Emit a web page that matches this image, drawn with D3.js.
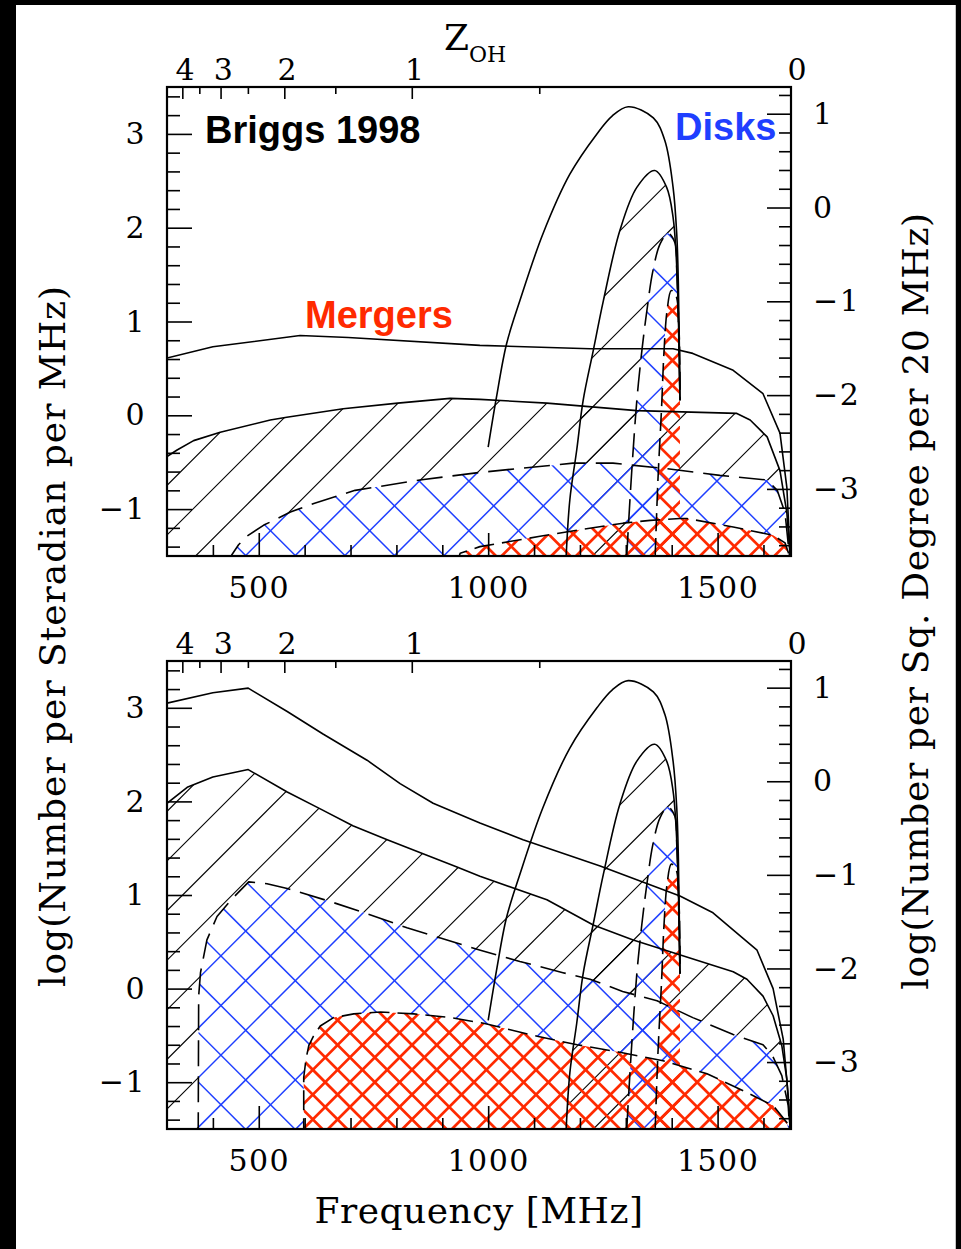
<!DOCTYPE html>
<html>
<head>
<meta charset="utf-8">
<title>OH megamaser and HI disk source counts</title>
<script src="https://cdn.jsdelivr.net/npm/d3@7/dist/d3.min.js"></script>
<style>
  html, body { margin: 0; padding: 0; background: #000; }
  svg { display: block; }
</style>
</head>
<body>
<svg id="chart" width="961" height="1249"></svg>
<script>
// ---------------------------------------------------------------
// Data: [observed frequency (MHz), log N (per steradian per MHz)]
// ---------------------------------------------------------------
const FREQ_DOMAIN = [300, 1660];
const LOGN_DOMAIN = [-1.5, 3.5];
const OH_REST = 1667;                       // MHz, z = 0 for the OH line
// per sr per MHz  ->  per sq. degree per 20 MHz
const SQDEG_OFFSET = Math.log10(Math.pow(180 / Math.PI, 2)) - Math.log10(20);

const freqMajorTicks = [500, 1000, 1500];
const freqMinorTicks = [400, 600, 700, 800, 900, 1100, 1200, 1300, 1400, 1600];
const zMajorTicks = [0, 1, 2, 3, 4];
const zMinorTicks = [0.5, 1.5, 2.5, 3.5];
const leftMajorTicks = [-1, 0, 1, 2, 3];
const rightMajorTicks = [-3, -2, -1, 0, 1];

// HI disks (identical in both panels), four sensitivity levels
const diskOuter = [[1000,-0.34],[1018,0.19],[1040,0.76],[1069,1.22],[1119,1.93],[1178,2.57],
  [1237,3.0],[1270,3.19],[1305,3.29],[1360,3.17],[1385,2.93],[1403,2.43],[1411,1.93],[1414.5,1.40],[1418,0.16]];
const diskMid = [[1170,-1.5],[1178,-0.90],[1193,-0.37],[1207,0.16],[1229,0.69],[1251,1.22],[1287,1.97],
  [1324,2.43],[1363,2.61],[1389,2.43],[1403,2.11],[1411,1.58],[1418,0.16]];
const diskInner = [[1302,-1.5],[1309,-0.90],[1316,-0.37],[1324,0.16],[1335,0.69],[1346,1.12],[1359,1.54],
  [1375,1.83],[1392,1.94],[1407,1.84],[1411,1.54],[1414.5,1.01],[1418,0.16]];
const diskCore = [[1364,-1.5],[1370,-0.69],[1378,0.09],[1383,0.66],[1390,1.12],[1399,1.33],[1409,1.28],
  [1416,0.90],[1418,0.16]];

// OH megamaser mergers, no evolution (upper panel)
const mergUpperNoEvol = [[300,0.61],[400,0.73],[590,0.85],[695,0.83],[982,0.745],[1222,0.71],[1403,0.71],
  [1446,0.66],[1534,0.48],[1599,0.23],[1636,-0.19],[1651,-0.77],[1658,-1.49]];
const mergLowerNoEvol = [[300,-0.44],[322,-0.37],[358,-0.27],[416,-0.18],[525,-0.05],[561,-0.02],[684,0.07],
  [803,0.13],[917,0.18],[982,0.17],[1128,0.13],[1324,0.05],[1542,0.02],[1571,-0.05],[1608,-0.23],
  [1636,-0.59],[1651,-1.04],[1658,-1.49]];
const mergInnerNoEvol = [[432,-1.6],[441,-1.49],[456,-1.38],[474,-1.29],[511,-1.17],[533,-1.12],[569,-1.03],
  [620,-0.94],[678,-0.85],[710,-0.80],[851,-0.69],[980,-0.61],[1185,-0.51],[1272,-0.51],[1390,-0.57],
  [1505,-0.64],[1608,-0.69],[1630,-0.80],[1647,-1.04],[1656,-1.47],[1658,-1.6]];
const mergCoreNoEvol = [[930,-1.6],[939,-1.47],[982,-1.40],[1113,-1.29],[1200,-1.22],[1294,-1.15],[1353,-1.12],
  [1418,-1.10],[1433,-1.10],[1534,-1.19],[1621,-1.28],[1647,-1.36],[1656,-1.49],[1658,-1.6]];

// OH megamaser mergers, with merger-rate evolution (lower panel)
const mergUpperEvol = [[300,3.05],[400,3.16],[477,3.21],[562,2.96],[640,2.72],[736,2.44],[808,2.19],[880,1.98],
  [982,1.77],[1076,1.59],[1244,1.31],[1418,0.99],[1490,0.81],[1555,0.54],[1586,0.41],[1621,0.0],
  [1643,-0.54],[1654,-1.15],[1658,-1.49]];
const mergLowerEvol = [[300,1.98],[344,2.15],[400,2.26],[477,2.34],[562,2.10],[634,1.92],[705,1.74],[780,1.59],
  [858,1.44],[932,1.30],[982,1.20],[1128,0.95],[1229,0.68],[1316,0.52],[1534,0.18],[1564,0.10],
  [1599,-0.08],[1621,-0.29],[1640,-0.61],[1651,-0.97],[1658,-1.48]];
const mergInnerEvol = [[368,-1.6],[369,-0.08],[373,0.17],[387,0.52],[409,0.77],[442,0.96],[478,1.14],[518,1.12],
  [562,1.07],[656,0.93],[736,0.80],[823,0.65],[896,0.54],[983,0.41],[1069,0.29],[1163,0.17],[1222,0.10],
  [1293,-0.03],[1368,-0.13],[1446,-0.31],[1534,-0.49],[1599,-0.60],[1620,-0.72],[1640,-0.93],
  [1654,-1.25],[1658,-1.6]];
const mergCoreEvol = [[598,-1.6],[598,-0.95],[603,-0.75],[609,-0.61],[619,-0.51],[634,-0.40],[663,-0.31],
  [707,-0.27],[765,-0.25],[838,-0.27],[918,-0.31],[990,-0.37],[1107,-0.51],[1194,-0.60],[1287,-0.68],
  [1381,-0.77],[1477,-0.91],[1564,-1.11],[1621,-1.25],[1651,-1.43],[1658,-1.6]];

// ---------------------------------------------------------------
// Layout and styles
// ---------------------------------------------------------------
const PLOT_LEFT = 167, PLOT_RIGHT = 791;
const SERIF = "DejaVu Serif";
const SANS = "Liberation Sans, Arial, sans-serif";
const BLUE = "#1f3fff", RED = "#ff2a00";
const HATCH = {
  black: { color: "#000", width: 1.1, sep: 49.6, fam: ["/"] },
  blue:  { color: BLUE,  width: 1.5, sep: 49.6, fam: ["/", "\\"] },
  red:   { color: RED,   width: 2.7, sep: 24.8, fam: ["/", "\\"] }
};

const panels = [
  { id: "p1", top: 87, bottom: 556,
    upper: mergUpperNoEvol, lower: mergLowerNoEvol, inner: mergInnerNoEvol, core: mergCoreNoEvol },
  { id: "p2", top: 661, bottom: 1129,
    upper: mergUpperEvol, lower: mergLowerEvol, inner: mergInnerEvol, core: mergCoreEvol }
];

const svg = d3.select("#chart");
svg.append("rect").attr("x", 16).attr("y", 5).attr("width", 939).attr("height", 1244).attr("fill", "#fff");
svg.append("line").attr("x1", 955.5).attr("x2", 955.5).attr("y1", 5).attr("y2", 1249)
  .attr("stroke", "#c4c4c4").attr("stroke-width", 1);
const defs = svg.append("defs");

const x = d3.scaleLinear().domain(FREQ_DOMAIN).range([PLOT_LEFT, PLOT_RIGHT]);
const zToFreq = z => OH_REST / (1 + z);
const fmt = d => d < 0 ? "\u2212" + Math.abs(d) : String(d);

function hatchLines(g, p, family, sep, offset, style) {
  const w = PLOT_RIGHT - PLOT_LEFT, h = p.bottom - p.top;
  const lo = family === "/" ? 0 : -h, hi = family === "/" ? w + h : w;
  const segs = [];
  for (let k = Math.floor((lo - offset) / sep) - 1; k <= Math.ceil((hi - offset) / sep) + 1; k++) {
    const c = offset + k * sep;
    segs.push(family === "/" ? [c, 0, c - h, h] : [c, 0, c + h, h]);
  }
  g.selectAll(null).data(segs).join("line")
    .attr("x1", d => PLOT_LEFT + d[0]).attr("y1", d => p.top + d[1])
    .attr("x2", d => PLOT_LEFT + d[2]).attr("y2", d => p.top + d[3])
    .attr("stroke", style.color).attr("stroke-width", style.width);
}

function drawPanel(p) {
  const h = p.bottom - p.top, w = PLOT_RIGHT - PLOT_LEFT;
  const y = d3.scaleLinear().domain(LOGN_DOMAIN).range([p.bottom, p.top]);
  const yR = d3.scaleLinear().domain(LOGN_DOMAIN.map(v => v - SQDEG_OFFSET)).range([p.bottom, p.top]);

  defs.append("clipPath").attr("id", `frame-${p.id}`)
    .append("rect").attr("x", PLOT_LEFT).attr("y", p.top).attr("width", w).attr("height", h);

  const lin = d3.line().x(d => x(d[0])).y(d => y(d[1]));
  const smooth = d3.line().x(d => x(d[0])).y(d => y(d[1])).curve(d3.curveCatmullRom.alpha(0.5));
  const below = (gen, pts, drop) => gen(pts) +
    `L${x(pts[pts.length - 1][0])},${p.bottom + drop}L${x(pts[0][0])},${p.bottom + drop}Z`;

  // hatch phases are anchored to the panel corner
  const off = {
    "/":  { 49.6: 1.6, 24.8: ((h + 12.2) % 24.8) },
    "\\": { 49.6: 7.0, 24.8: (((6.6 - h) % 24.8) + 24.8) % 24.8 }
  };

  const bands = [
    { key: "mk", d: below(lin, p.lower, 40) + below(lin, p.inner, 20), style: HATCH.black },
    { key: "dk", d: below(smooth, diskMid, 40) + below(smooth, diskInner, 20), style: HATCH.black },
    { key: "mb", d: below(lin, p.inner, 40) + below(lin, p.core, 20), style: HATCH.blue },
    { key: "db", d: below(smooth, diskInner, 40) + below(smooth, diskCore, 20), style: HATCH.blue },
    { key: "mr", d: below(lin, p.core, 40), style: HATCH.red },
    { key: "dr", d: below(smooth, diskCore, 40), style: HATCH.red }
  ];

  const plot = svg.append("g").attr("clip-path", `url(#frame-${p.id})`);
  bands.forEach(b => {
    const cid = `${p.id}-${b.key}`;
    defs.append("clipPath").attr("id", cid)
      .append("path").attr("d", b.d).attr("clip-rule", "evenodd");
    const g = plot.append("g").attr("clip-path", `url(#${cid})`);
    b.style.fam.forEach(f => hatchLines(g, p, f, b.style.sep, off[f][b.style.sep], b.style));
  });

  // outlines
  const outline = (d, dash) => plot.append("path").attr("d", d).attr("fill", "none")
    .attr("stroke", "#000").attr("stroke-width", 1.6).attr("stroke-linejoin", "round")
    .attr("stroke-dasharray", dash);
  outline(lin(p.upper), null);
  outline(lin(p.lower), null);
  outline(lin(p.inner), "26,10");
  outline(lin(p.core), "20,8");
  outline(smooth(diskOuter), null);
  outline(smooth(diskMid), null);
  outline(smooth(diskInner), "24,9");
  outline(smooth(diskCore), "18,7");

  // frame
  svg.append("rect").attr("x", PLOT_LEFT).attr("y", p.top).attr("width", w).attr("height", h)
    .attr("fill", "none").attr("stroke", "#000").attr("stroke-width", 2.2);

  const styleAxis = g => {
    g.select(".domain").remove();
    g.attr("font-family", SERIF).attr("font-size", 30);
    g.selectAll(".tick line").attr("stroke-width", 1.6);
    g.selectAll(".tick text").attr("letter-spacing", 1.5);
  };

  // left axis
  const leftMinor = d3.range(-14, 35, 2).map(v => v / 10).filter(v => Math.abs(v - Math.round(v)) > 1e-6);
  svg.append("g").attr("transform", `translate(${PLOT_LEFT},0)`)
    .call(d3.axisLeft(y).tickValues(leftMinor).tickSize(-13).tickFormat("")).call(styleAxis);
  svg.append("g").attr("transform", `translate(${PLOT_LEFT},0)`)
    .call(d3.axisLeft(y).tickValues(leftMajorTicks).tickSize(-25).tickPadding(21).tickFormat(fmt)).call(styleAxis);

  // right axis
  const rightMinor = d3.range(-36, 13, 2).map(v => v / 10).filter(v => Math.abs(v - Math.round(v)) > 1e-6);
  svg.append("g").attr("transform", `translate(${PLOT_RIGHT},0)`)
    .call(d3.axisRight(yR).tickValues(rightMinor).tickSize(-12).tickFormat("")).call(styleAxis);
  svg.append("g").attr("transform", `translate(${PLOT_RIGHT},0)`)
    .call(d3.axisRight(yR).tickValues(rightMajorTicks).tickSize(-24).tickPadding(22).tickFormat(fmt)).call(styleAxis);

  // bottom axis
  svg.append("g").attr("transform", `translate(0,${p.bottom})`)
    .call(d3.axisBottom(x).tickValues(freqMinorTicks).tickSize(-11).tickFormat("")).call(styleAxis);
  svg.append("g").attr("transform", `translate(0,${p.bottom})`)
    .call(d3.axisBottom(x).tickValues(freqMajorTicks).tickSize(-23).tickPadding(21).tickFormat(d3.format("d")))
    .call(styleAxis);

  // top axis: redshift of the OH line
  svg.append("g").attr("transform", `translate(0,${p.top})`)
    .call(d3.axisTop(x).tickValues(zMinorTicks.map(zToFreq)).tickSize(-7).tickFormat("")).call(styleAxis);
  const top = svg.append("g").attr("transform", `translate(0,${p.top})`)
    .call(d3.axisTop(x).tickValues(zMajorTicks.map(zToFreq)).tickSize(-12).tickPadding(7)
      .tickFormat(f => d3.format("d")(OH_REST / f - 1)))
    .call(styleAxis);
  top.selectAll(".tick text").attr("dx", 3);
  top.selectAll(".tick line").filter(f => f > FREQ_DOMAIN[1]).remove();
}

panels.forEach(drawPanel);

// ---------------------------------------------------------------
// Titles and annotations
// ---------------------------------------------------------------
const zTitle = svg.append("text").attr("x", 444).attr("y", 50)
  .attr("font-family", SERIF).attr("font-size", 36).text("Z");
zTitle.append("tspan").attr("dy", 12).attr("font-size", 22).text("OH");

svg.append("text").attr("x", (PLOT_LEFT + PLOT_RIGHT) / 2).attr("y", 1223)
  .attr("text-anchor", "middle").attr("font-family", SERIF).attr("font-size", 36)
  .attr("letter-spacing", 0.5).text("Frequency [MHz]");

svg.append("text").attr("transform", "translate(65,636) rotate(-90)")
  .attr("text-anchor", "middle").attr("font-family", SERIF).attr("font-size", 36)
  .attr("letter-spacing", 1).text("log(Number per Steradian per MHz)");

svg.append("text").attr("transform", "translate(928,601) rotate(-90)")
  .attr("text-anchor", "middle").attr("font-family", SERIF).attr("font-size", 36)
  .attr("letter-spacing", 0.7).text("log(Number per Sq. Degree per 20 MHz)");

svg.append("text").attr("x", 205).attr("y", 143)
  .attr("font-family", SANS).attr("font-weight", "bold").attr("font-size", 38).text("Briggs 1998");
svg.append("text").attr("x", 675).attr("y", 140).attr("fill", BLUE)
  .attr("font-family", SANS).attr("font-weight", "bold").attr("font-size", 38).text("Disks");
svg.append("text").attr("x", 305).attr("y", 328).attr("fill", RED)
  .attr("font-family", SANS).attr("font-weight", "bold").attr("font-size", 38).text("Mergers");
</script>
</body>
</html>
